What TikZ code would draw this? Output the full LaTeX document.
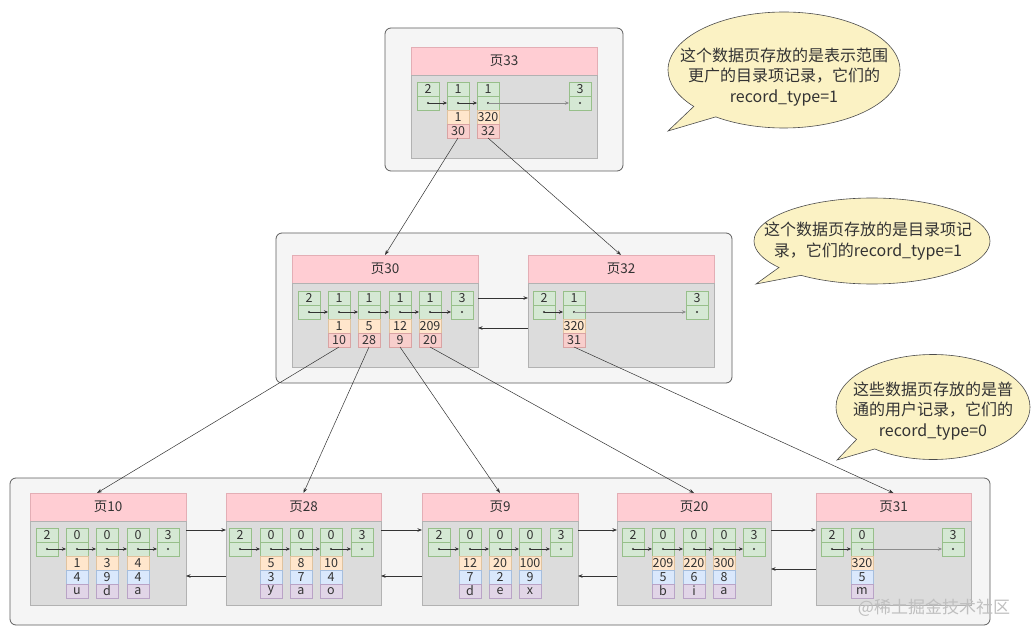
\documentclass[tikz,border=0pt]{standalone}
\usepackage{fontspec}
\setmainfont{Noto Sans CJK SC}
\usetikzlibrary{arrows.meta,shapes.callouts,calc}
\definecolor{gfill}{HTML}{D5E8D4}\definecolor{gline}{HTML}{97BF8A}
\definecolor{ofill}{HTML}{FFE6CC}\definecolor{oline}{HTML}{E0C39F}
\definecolor{pfill}{HTML}{F8CECC}\definecolor{pline}{HTML}{D9A3A3}
\definecolor{bfill}{HTML}{DAE8FC}\definecolor{bline}{HTML}{A6BEDD}
\definecolor{vfill}{HTML}{E1D5E7}\definecolor{vline}{HTML}{B9A3C6}
\definecolor{hfill}{HTML}{FFCDD3}\definecolor{hline}{HTML}{E3AEB5}
\definecolor{bodyfill}{HTML}{DCDCDC}\definecolor{bodyline}{HTML}{B2B2B2}
\definecolor{boxfill}{HTML}{F5F5F5}\definecolor{boxline}{HTML}{5E5E5E}
\definecolor{callfill}{HTML}{FBF2C4}\definecolor{txt}{HTML}{333333}
\newcommand\cellfont{\fontsize{12.5}{13}\selectfont}
\newcommand\mkgreen[4]{%
  \node[gcell] (#1t) at (#2,#3) {#4};
  \node[gcell] (#1b) at (#2,#3+14) {};
  \fill[txt] (#1b.center) circle (1.2pt);}
\newcommand\mkidx[6]{%
  \mkgreen{#1}{#2}{#3}{#4}
  \node[ocell] (#1k) at (#2,#3+28) {#5};
  \node[pcell] (#1p) at (#2,#3+42) {#6};}
\newcommand\mkleaf[7]{%
  \mkgreen{#1}{#2}{#3}{#4}
  \node[ocell] (#1k) at (#2,#3+28) {#5};
  \node[bcell] (#1v) at (#2,#3+42) {#6};
  \node[vcell] (#1w) at (#2,#3+56) {#7};}
\begin{document}
\begin{tikzpicture}[x=1pt,y=-1pt,
  cellbase/.style={anchor=north west,minimum width=22pt,minimum height=14pt,inner sep=0pt,outer sep=0pt,line width=0.6pt,font=\cellfont,text=txt},
  gcell/.style={cellbase,fill=gfill,draw=gline},
  ocell/.style={cellbase,fill=ofill,draw=oline},
  pcell/.style={cellbase,fill=pfill,draw=pline},
  bcell/.style={cellbase,fill=bfill,draw=bline},
  vcell/.style={cellbase,fill=vfill,draw=vline},
  phead/.style={anchor=north west,minimum height=28pt,inner sep=0pt,outer sep=0pt,fill=hfill,draw=hline,line width=0.6pt,font=\fontsize{13.5}{14}\selectfont,text=txt},
  pbody/.style={anchor=north west,inner sep=0pt,outer sep=0pt,fill=bodyfill,draw=bodyline,line width=0.8pt},
  container/.style={fill=boxfill,draw=boxline,line width=0.8pt,rounded corners=6pt},
  ptr/.style={draw=txt,line width=0.6pt,-{Stealth[length=4pt,width=3.5pt]}},
  ptrlong/.style={draw=black!45,line width=0.6pt,-{Stealth[length=4pt,width=3.5pt]}},
  link/.style={draw=txt,line width=0.6pt,-{Stealth[length=4.5pt,width=3.5pt]}},
  lvl/.style={draw=black!80,line width=0.5pt,-{Stealth[length=5pt,width=3.5pt]}},
  bubble/.style={ellipse callout,draw=black!70,fill=callfill,line width=0.6pt,inner sep=0pt},
  ctext/.style={align=center,font=\fontsize{16}{20.5}\selectfont,text=txt},
]
\useasboundingbox (0,0) rectangle (1034,639);
\fill[white] (0,0) rectangle (1034,639);

% containers
\draw[container] (385,28) rectangle (623,171);
\draw[container] (276,233) rectangle (732,383);
\draw[container] (10,478) rectangle (990,625);

% ---- page 33
\node[phead,minimum width=186pt] (p33h) at (411,47) {页33};
\node[pbody,minimum width=186pt,minimum height=83pt] (p33b) at (411,75) {};
\mkgreen{p33c0}{417}{82}{2}
\mkidx{p33c1}{447}{82}{1}{1}{30}
\mkidx{p33c2}{477}{82}{1}{320}{32}
\mkgreen{p33c3}{569}{82}{3}
\draw[ptr] (p33c0b.center) -- (p33c1b.west);
\draw[ptr] (p33c1b.center) -- (p33c2b.west);
\draw[ptrlong] (p33c2b.center) -- (p33c3b.west);

% ---- page 30
\node[phead,minimum width=186pt] (p30h) at (292,255) {页30};
\node[pbody,minimum width=186pt,minimum height=84pt] (p30b) at (292,283) {};
\mkgreen{p30c0}{298}{291}{2}
\mkidx{p30c1}{328}{291}{1}{1}{10}
\mkidx{p30c2}{358}{291}{1}{5}{28}
\mkidx{p30c3}{389}{291}{1}{12}{9}
\mkidx{p30c4}{419}{291}{1}{209}{20}
\mkgreen{p30c5}{451}{291}{3}
\draw[ptr] (p30c0b.center) -- (p30c1b.west);
\draw[ptr] (p30c1b.center) -- (p30c2b.west);
\draw[ptr] (p30c2b.center) -- (p30c3b.west);
\draw[ptr] (p30c3b.center) -- (p30c4b.west);
\draw[ptr] (p30c4b.center) -- (p30c5b.west);

% ---- page 32
\node[phead,minimum width=186pt] (p32h) at (528,255) {页32};
\node[pbody,minimum width=186pt,minimum height=84pt] (p32b) at (528,283) {};
\mkgreen{p32c0}{533}{291}{2}
\mkidx{p32c1}{563}{291}{1}{320}{31}
\mkgreen{p32c2}{686}{291}{3}
\draw[ptr] (p32c0b.center) -- (p32c1b.west);
\draw[ptrlong] (p32c1b.center) -- (p32c2b.west);

\draw[link] ([yshift=-15pt]p30b.north east) -- ([yshift=-15pt]p32b.north west);
\draw[link] ([yshift=-45pt]p32b.north west) -- ([yshift=-45pt]p30b.north east);

% ---- bottom pages
\node[phead,minimum width=156pt] (p10h) at (30,493) {页10};
\node[pbody,minimum width=156pt,minimum height=84pt] (p10b) at (30,521) {};
\mkgreen{p10c0}{36}{528}{2}
\mkleaf{p10c1}{66}{528}{0}{1}{4}{u}
\mkleaf{p10c2}{96}{528}{0}{3}{9}{d}
\mkleaf{p10c3}{127}{528}{0}{4}{4}{a}
\mkgreen{p10c4}{157}{528}{3}

\node[phead,minimum width=155pt] (p28h) at (226,493) {页28};
\node[pbody,minimum width=155pt,minimum height=84pt] (p28b) at (226,521) {};
\mkgreen{p28c0}{229}{528}{2}
\mkleaf{p28c1}{260}{528}{0}{5}{3}{y}
\mkleaf{p28c2}{290}{528}{0}{8}{7}{a}
\mkleaf{p28c3}{320}{528}{0}{10}{4}{o}
\mkgreen{p28c4}{351}{528}{3}

\node[phead,minimum width=156pt] (p9h) at (422,493) {页9};
\node[pbody,minimum width=156pt,minimum height=84pt] (p9b) at (422,521) {};
\mkgreen{p9c0}{428}{528}{2}
\mkleaf{p9c1}{459}{528}{0}{12}{7}{d}
\mkleaf{p9c2}{489}{528}{0}{20}{2}{e}
\mkleaf{p9c3}{519}{528}{0}{100}{9}{x}
\mkgreen{p9c4}{550}{528}{3}

\node[phead,minimum width=154pt] (p20h) at (617,493) {页20};
\node[pbody,minimum width=154pt,minimum height=84pt] (p20b) at (617,521) {};
\mkgreen{p20c0}{622}{528}{2}
\mkleaf{p20c1}{652}{528}{0}{209}{5}{b}
\mkleaf{p20c2}{683}{528}{0}{220}{6}{i}
\mkleaf{p20c3}{713}{528}{0}{300}{8}{a}
\mkgreen{p20c4}{743}{528}{3}

\node[phead,minimum width=155pt] (p31h) at (816,493) {页31};
\node[pbody,minimum width=155pt,minimum height=84pt] (p31b) at (816,521) {};
\mkgreen{p31c0}{821}{528}{2}
\mkleaf{p31c1}{851}{528}{0}{320}{5}{m}
\mkgreen{p31c2}{942}{528}{3}

\foreach \p in {p10,p28,p9,p20}{
  \draw[ptr] (\p c0b.center) -- (\p c1b.west);
  \draw[ptr] (\p c1b.center) -- (\p c2b.west);
  \draw[ptr] (\p c2b.center) -- (\p c3b.west);
  \draw[ptr] (\p c3b.center) -- (\p c4b.west);
}
\draw[ptr] (p31c0b.center) -- (p31c1b.west);
\draw[ptrlong] (p31c1b.center) -- (p31c2b.west);

% links between leaf pages
\draw[link] ([yshift=-9pt]p10b.north east) -- ([yshift=-9pt]p28b.north west);
\draw[link] ([yshift=-9pt]p28b.north east) -- ([yshift=-9pt]p9b.north west);
\draw[link] ([yshift=-9pt]p9b.north east) -- ([yshift=-9pt]p20b.north west);
\draw[link] ([yshift=-9pt]p20b.north east) -- ([yshift=-9pt]p31b.north west);
\draw[link] ([yshift=-55pt]p28b.north west) -- ([yshift=-55pt]p10b.north east);
\draw[link] ([yshift=-55pt]p9b.north west) -- ([yshift=-55pt]p28b.north east);
\draw[link] ([yshift=-55pt]p20b.north west) -- ([yshift=-55pt]p9b.north east);
\draw[link] ([yshift=-48pt]p31b.north west) -- ([yshift=-48pt]p20b.north east);

% level connectors
\draw[lvl] (p33c1p.south) -- (p30h.north);
\draw[lvl] (p33c2p.south) -- (p32h.north);
\draw[lvl] (p30c1p.south) -- ([xshift=-11pt]p10h.north);
\draw[lvl] (p30c2p.south) -- (p28h.north);
\draw[lvl] (p30c3p.south) -- (p9h.north);
\draw[lvl] (p30c4p.south) -- (p20h.north);
\draw[lvl] (p32c1p.south) -- (p31h.north);

% callouts
\node[bubble,minimum width=232pt,minimum height=116pt,callout absolute pointer={(668,131)}] (c1) at (784,70) {};
\node[ctext] (c1t) at (784,77) {这个数据页存放的是表示范围\\更广的目录项记录，它们的\\record\_type=1};
\node[bubble,minimum width=236pt,minimum height=86pt,callout absolute pointer={(756,284)}] (c2) at (872,241) {};
\node[ctext] (c2t) at (868,241) {这个数据页存放的是目录项记\\录，它们的record\_type=1};
\node[bubble,minimum width=194pt,minimum height=105pt,callout absolute pointer={(837,460)}] (c3) at (933,407) {};
\node[ctext] (c3t) at (933,411) {这些数据页存放的是普\\通的用户记录，它们的\\record\_type=0};

% watermark
\node[text=black!25,font=\fontsize{17}{18}\selectfont] (wm) at (934,608) {@稀土掘金技术社区};
\end{tikzpicture}
\end{document}
